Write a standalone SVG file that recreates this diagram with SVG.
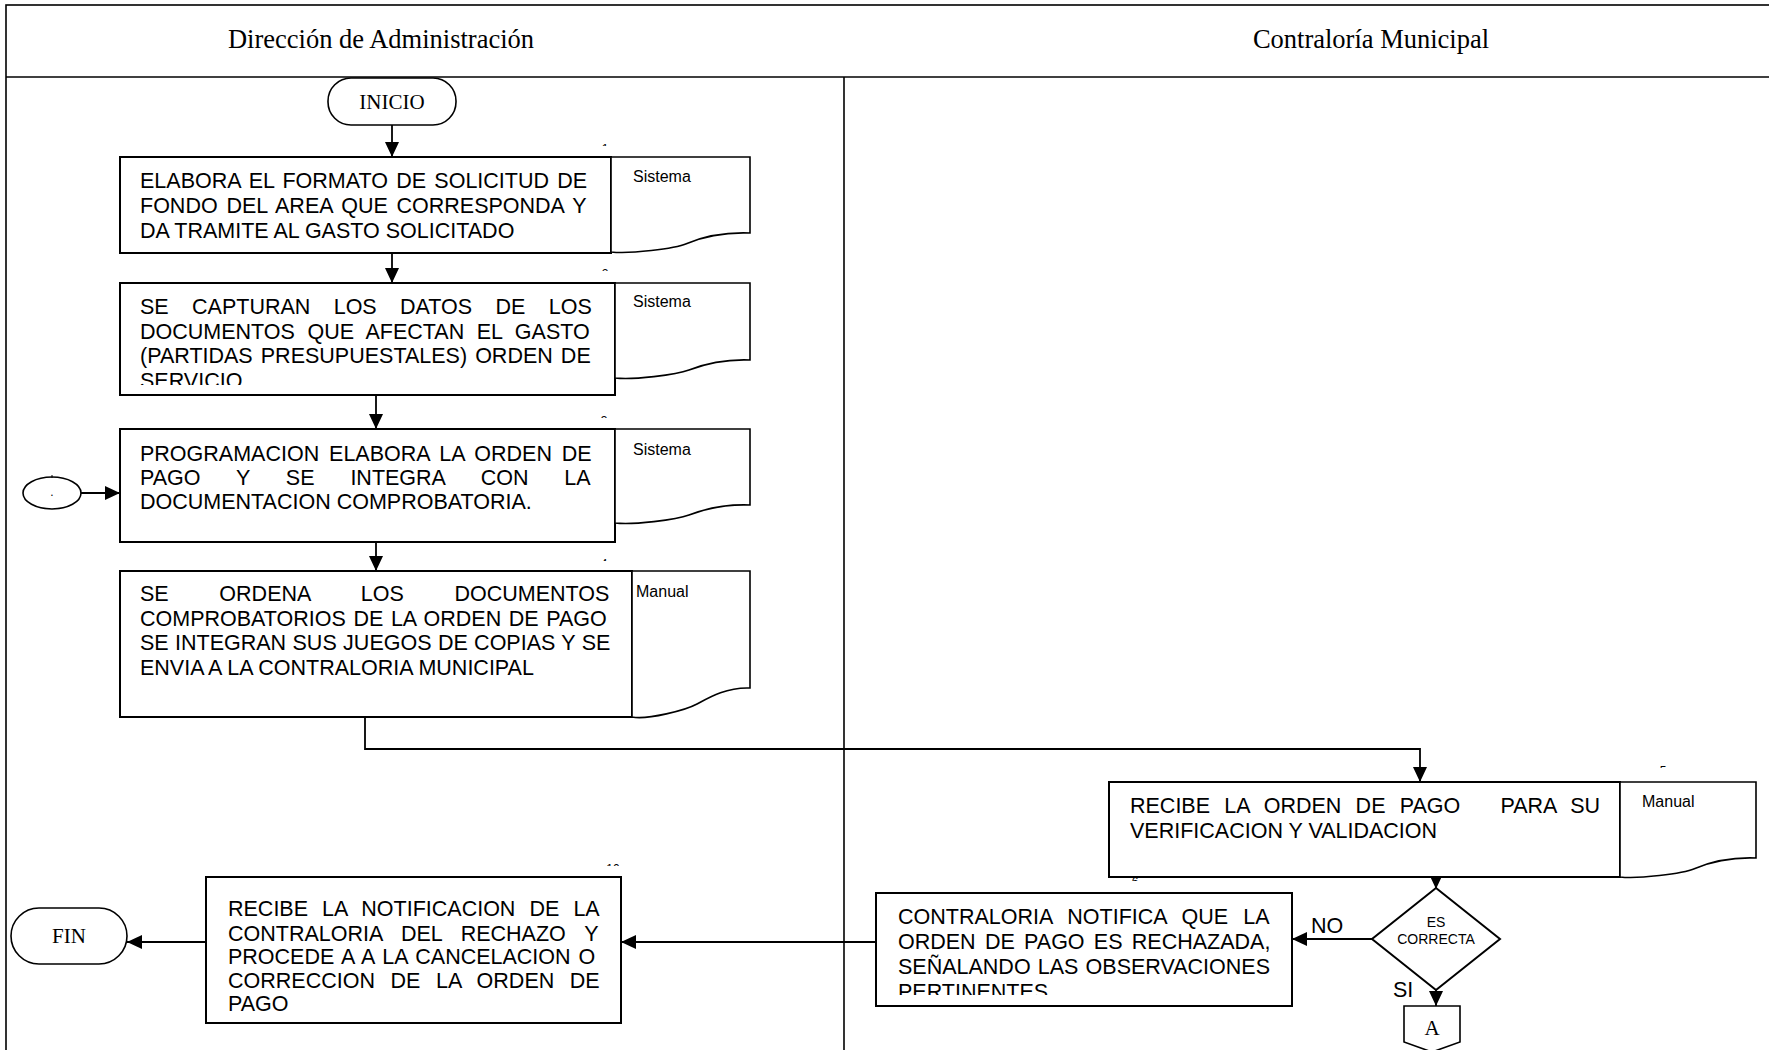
<svg xmlns="http://www.w3.org/2000/svg" width="1769" height="1050" viewBox="0 0 1769 1050">
<style>
.box{fill:#fff;stroke:#000;stroke-width:2}
.doc{fill:#fff;stroke:#000;stroke-width:1.6}
.term{fill:#fff;stroke:#000;stroke-width:1.6}
.con{fill:none;stroke:#000;stroke-width:1.8}
.lane{fill:none;stroke:#000;stroke-width:1.6}
.hdr{font-family:"Liberation Serif","Times New Roman",serif;font-size:26.5px;text-anchor:middle;fill:#000}
.ser{font-family:"Liberation Serif","Times New Roman",serif;font-size:21px;text-anchor:middle;fill:#000}
.t{font-family:"Liberation Sans",Arial,sans-serif;font-size:21.5px;fill:#000}
.s{font-family:"Liberation Sans",Arial,sans-serif;font-size:16px;fill:#000}
.d{font-family:"Liberation Sans",Arial,sans-serif;font-size:14px;fill:#000;text-anchor:middle}
.n{font-family:"Liberation Sans",Arial,sans-serif;font-size:12px;fill:#000}
</style>
<defs>
<marker id="ah" markerUnits="userSpaceOnUse" markerWidth="15" markerHeight="14" refX="15" refY="7" orient="auto">
<path d="M0,0 L15,7 L0,14 Z" fill="#000"/>
</marker>
<clipPath id="c2"><rect x="100" y="283" width="520" height="102"/></clipPath>
<clipPath id="c6"><rect x="870" y="893" width="430" height="102"/></clipPath>
<clipPath id="f1"><rect x="595" y="142" width="25" height="4"/></clipPath>
<clipPath id="f2"><rect x="595" y="267" width="25" height="4"/></clipPath>
<clipPath id="f3"><rect x="594" y="414" width="25" height="4"/></clipPath>
<clipPath id="f4"><rect x="594" y="557" width="25" height="4"/></clipPath>
<clipPath id="f5"><rect x="1653" y="764" width="25" height="4"/></clipPath>
<clipPath id="f10"><rect x="600" y="862" width="30" height="4"/></clipPath>
<clipPath id="f6"><rect x="1125" y="877" width="25" height="4"/></clipPath>
</defs>
<rect width="1769" height="1050" fill="#fff"/>

<g id="lanes">
<rect x="6" y="5" width="1800" height="1100" class="lane" stroke-width="2.5"/>
<line x1="6" y1="77" x2="1769" y2="77" class="lane" stroke-width="3"/>
<line x1="844" y1="77" x2="844" y2="1050" class="lane"/>
<text x="381" y="48" class="hdr">Dirección de Administración</text>
<text x="1371" y="48" class="hdr">Contraloría Municipal</text>
</g>

<g id="connectors">
<path d="M392,125 V157" class="con" marker-end="url(#ah)"/>
<path d="M392,253 V283" class="con" marker-end="url(#ah)"/>
<path d="M376,395 V429" class="con" marker-end="url(#ah)"/>
<path d="M376,542 V571" class="con" marker-end="url(#ah)"/>
<path d="M365,717 V749 H1420 V782" class="con" marker-end="url(#ah)"/>
<path d="M61,493 H120" class="con" marker-end="url(#ah)"/>
<path d="M1436,877 V889" class="con" marker-end="url(#ah)"/>
<path d="M1372,939 H1292" class="con" marker-end="url(#ah)"/>
<path d="M1436,990 V1006" class="con" marker-end="url(#ah)"/>
<path d="M876,942 H621" class="con" marker-end="url(#ah)"/>
<path d="M206,942 H127" class="con" marker-end="url(#ah)"/>
<text x="1311" y="933" class="t" font-size="20">NO</text>
<text x="1393" y="997" class="t" font-size="20">SI</text>
</g>

<g id="inicio">
<rect x="328" y="78" width="128" height="47" rx="23" class="term"/>
<text x="392" y="109" class="ser">INICIO</text>
</g>

<g id="conector-entrada">
<ellipse cx="52" cy="493" rx="29" ry="16" class="term"/>
<line x1="52" y1="475" x2="52" y2="478" stroke="#000" stroke-width="1"/>
<text x="52" y="496" class="n" text-anchor="middle">.</text>
</g>

<g id="paso1">
<text x="605" y="153" class="n" text-anchor="middle" clip-path="url(#f1)">1</text>
<rect x="120" y="157" width="491" height="96" class="box"/>
<path d="M611,252 V157 H750 V233 C722,232 700,238 687,243.5 S630,254 611,252 Z" class="doc"/>
<text x="633" y="182" class="s">Sistema</text>
<text x="140" y="188" class="t" word-spacing="2.3">ELABORA EL FORMATO DE SOLICITUD DE</text>
<text x="140" y="213" class="t" word-spacing="2.8">FONDO DEL AREA QUE CORRESPONDA Y</text>
<text x="140" y="238" class="t">DA TRAMITE AL GASTO SOLICITADO</text>
</g>

<g id="paso2">
<text x="605" y="278" class="n" text-anchor="middle" clip-path="url(#f2)">2</text>
<rect x="120" y="283" width="495" height="112" class="box"/>
<path d="M615,378 V283 H750 V360 C723,359 702,365 689,370 S633,380 615,378 Z" class="doc"/>
<text x="633" y="307" class="s">Sistema</text>
<g clip-path="url(#c2)">
<text x="140" y="314" class="t" word-spacing="17.4">SE CAPTURAN LOS DATOS DE LOS</text>
<text x="140" y="339" class="t" word-spacing="6.6">DOCUMENTOS QUE AFECTAN EL GASTO</text>
<text x="140" y="363" class="t" word-spacing="2.1">(PARTIDAS PRESUPUESTALES) ORDEN DE</text>
<text x="140" y="388" class="t">SERVICIO</text>
</g>
</g>

<g id="paso3">
<text x="604" y="425" class="n" text-anchor="middle" clip-path="url(#f3)">3</text>
<rect x="120" y="429" width="495" height="113" class="box"/>
<path d="M615,523 V429 H750 V505 C723,504 702,510 689,515 S633,525 615,523 Z" class="doc"/>
<text x="633" y="455" class="s">Sistema</text>
<text x="140" y="461" class="t" word-spacing="3.9">PROGRAMACION ELABORA LA ORDEN DE</text>
<text x="140" y="485" class="t" word-spacing="29.9">PAGO Y SE INTEGRA CON LA</text>
<text x="140" y="509" class="t">DOCUMENTACION COMPROBATORIA.</text>
</g>

<g id="paso4">
<text x="604" y="568" class="n" text-anchor="middle" clip-path="url(#f4)">4</text>
<rect x="120" y="571" width="512" height="146" class="box"/>
<path d="M632,717 V571 H750 V688 C726,687 708,698 697,704 S648,720 632,717 Z" class="doc"/>
<text x="636" y="597" class="s">Manual</text>
<text x="140" y="601" class="t" word-spacing="44.7">SE ORDENA LOS DOCUMENTOS</text>
<text x="140" y="626" class="t" word-spacing="1.6">COMPROBATORIOS DE LA ORDEN DE PAGO</text>
<text x="140" y="650" class="t" word-spacing="0.4">SE INTEGRAN SUS JUEGOS DE COPIAS Y SE</text>
<text x="140" y="675" class="t">ENVIA A LA CONTRALORIA MUNICIPAL</text>
</g>

<g id="paso5">
<text x="1663" y="775" class="n" text-anchor="middle" clip-path="url(#f5)">5</text>
<rect x="1109" y="782" width="511" height="95" class="box"/>
<path d="M1620,877 V782 H1756 V858 C1729,857 1708,863 1695,868.5 S1638,879 1620,877 Z" class="doc"/>
<text x="1642" y="807" class="s">Manual</text>
<text x="1130" y="813" class="t" word-spacing="8.3">RECIBE LA ORDEN DE PAGO</text>
<text x="1600" y="813" class="t" word-spacing="8" text-anchor="end">PARA SU</text>
<text x="1130" y="838" class="t">VERIFICACION Y VALIDACION</text>
</g>

<g id="decision">
<path d="M1436,888 L1500,939 L1436,990 L1372,939 Z" class="box" stroke-width="1.8"/>
<text x="1436" y="927" class="d">ES</text>
<text x="1436" y="944" class="d">CORRECTA</text>
</g>

<g id="conector-A">
<path d="M1404,1006 H1460 V1042 L1432,1052 L1404,1042 Z" class="term"/>
<text x="1432" y="1035" class="ser">A</text>
</g>

<g id="paso6">
<text x="1135" y="886" class="n" text-anchor="middle" clip-path="url(#f6)">6</text>
<rect x="876" y="893" width="416" height="113" class="box"/>
<g clip-path="url(#c6)">
<text x="898" y="924" class="t" word-spacing="9.2">CONTRALORIA NOTIFICA QUE LA</text>
<text x="898" y="949" class="t" word-spacing="3.3">ORDEN DE PAGO ES RECHAZADA,</text>
<text x="898" y="974" class="t" word-spacing="1.2">SEÑALANDO LAS OBSERVACIONES</text>
<text x="898" y="999" class="t">PERTINENTES</text>
</g>
</g>

<g id="paso10">
<text x="613" y="873" class="n" text-anchor="middle" clip-path="url(#f10)">10</text>
<rect x="206" y="877" width="415" height="146" class="box"/>
<text x="228" y="916" class="t" word-spacing="8.1">RECIBE LA NOTIFICACION DE LA</text>
<text x="228" y="941" class="t" word-spacing="12.8">CONTRALORIA DEL RECHAZO Y</text>
<text x="228" y="964" class="t" word-spacing="2">PROCEDE A A LA CANCELACION O</text>
<text x="228" y="988" class="t" word-spacing="9.6">CORRECCION DE LA ORDEN DE</text>
<text x="228" y="1011" class="t">PAGO</text>
</g>

<g id="fin">
<rect x="11" y="908" width="116" height="56" rx="28" class="term"/>
<text x="69" y="943" class="ser">FIN</text>
</g>
</svg>
